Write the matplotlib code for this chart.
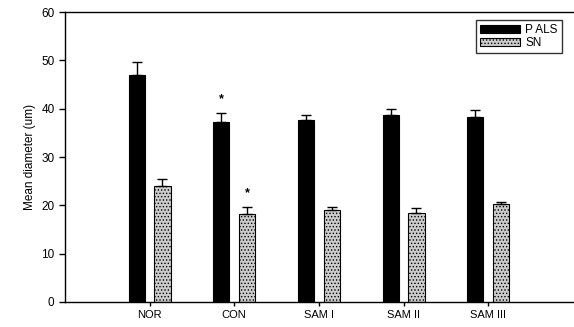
import matplotlib
matplotlib.use("Agg")
import matplotlib.pyplot as plt
import numpy as np

plt.rcParams['font.family'] = ['Liberation Sans', 'DejaVu Sans']
plt.rcParams['hatch.linewidth'] = 0.6

categories = ["NOR", "CON", "SAM I", "SAM II", "SAM III"]
pals = [47.0, 37.3, 37.7, 38.6, 38.2]
pals_err = [2.6, 1.9, 0.9, 1.4, 1.6]
sn = [24.0, 18.2, 19.0, 18.4, 20.3]
sn_err = [1.5, 1.4, 0.6, 1.0, 0.4]
star_pals = [None, 42.0, None, None, None]
star_sn = [None, 22.6, None, None, None]

fig = plt.figure(figsize=(5.74, 3.27), dpi=100)
ax = fig.add_axes([0.113, 0.0765, 0.885, 0.8865])

x = np.arange(len(categories))
w = 0.19
off = 0.153
ax.bar(x - off, pals, w, color='black', edgecolor='black', linewidth=0.8,
       yerr=[np.zeros(len(pals)), pals_err], capsize=3.5,
       error_kw=dict(ecolor='black', elinewidth=1.0, capthick=1.0), label='P ALS', zorder=2)
ax.bar(x + off, sn, w, color='#cccccc', edgecolor='black', linewidth=0.8, hatch='.....',
       yerr=[np.zeros(len(sn)), sn_err], capsize=3.5,
       error_kw=dict(ecolor='black', elinewidth=1.0, capthick=1.0), label='SN', zorder=2)

for i, s in enumerate(star_pals):
    if s is not None:
        ax.text(x[i] - off, s, '*', ha='center', va='center', fontsize=9, fontweight='bold')
for i, s in enumerate(star_sn):
    if s is not None:
        ax.text(x[i] + off, s, '*', ha='center', va='center', fontsize=9, fontweight='bold')

ax.set_xlim(-1, 5)
ax.set_ylim(0, 60)
ax.set_yticks(range(0, 61, 10))
ax.set_xticks(x)
ax.set_xticklabels(categories, fontsize=8)
ax.tick_params(axis='y', labelsize=8.5, direction='out', length=4, width=1)
ax.tick_params(axis='x', direction='out', length=3, width=1, pad=2.5)
ax.set_ylabel('Mean diameter (um)', fontsize=8.5)
ax.spines['right'].set_visible(False)
for s in ['left', 'bottom', 'top']:
    ax.spines[s].set_linewidth(1.0)

leg = ax.legend(loc='upper right', bbox_to_anchor=(0.985, 0.985), fontsize=8.5, frameon=True,
                fancybox=False, edgecolor='black', handlelength=3.4, handleheight=0.7,
                borderpad=0.35, labelspacing=0.1, handletextpad=0.4, borderaxespad=0.3)
leg.get_frame().set_linewidth(1.0)

fig.savefig('out.png', dpi=100)
